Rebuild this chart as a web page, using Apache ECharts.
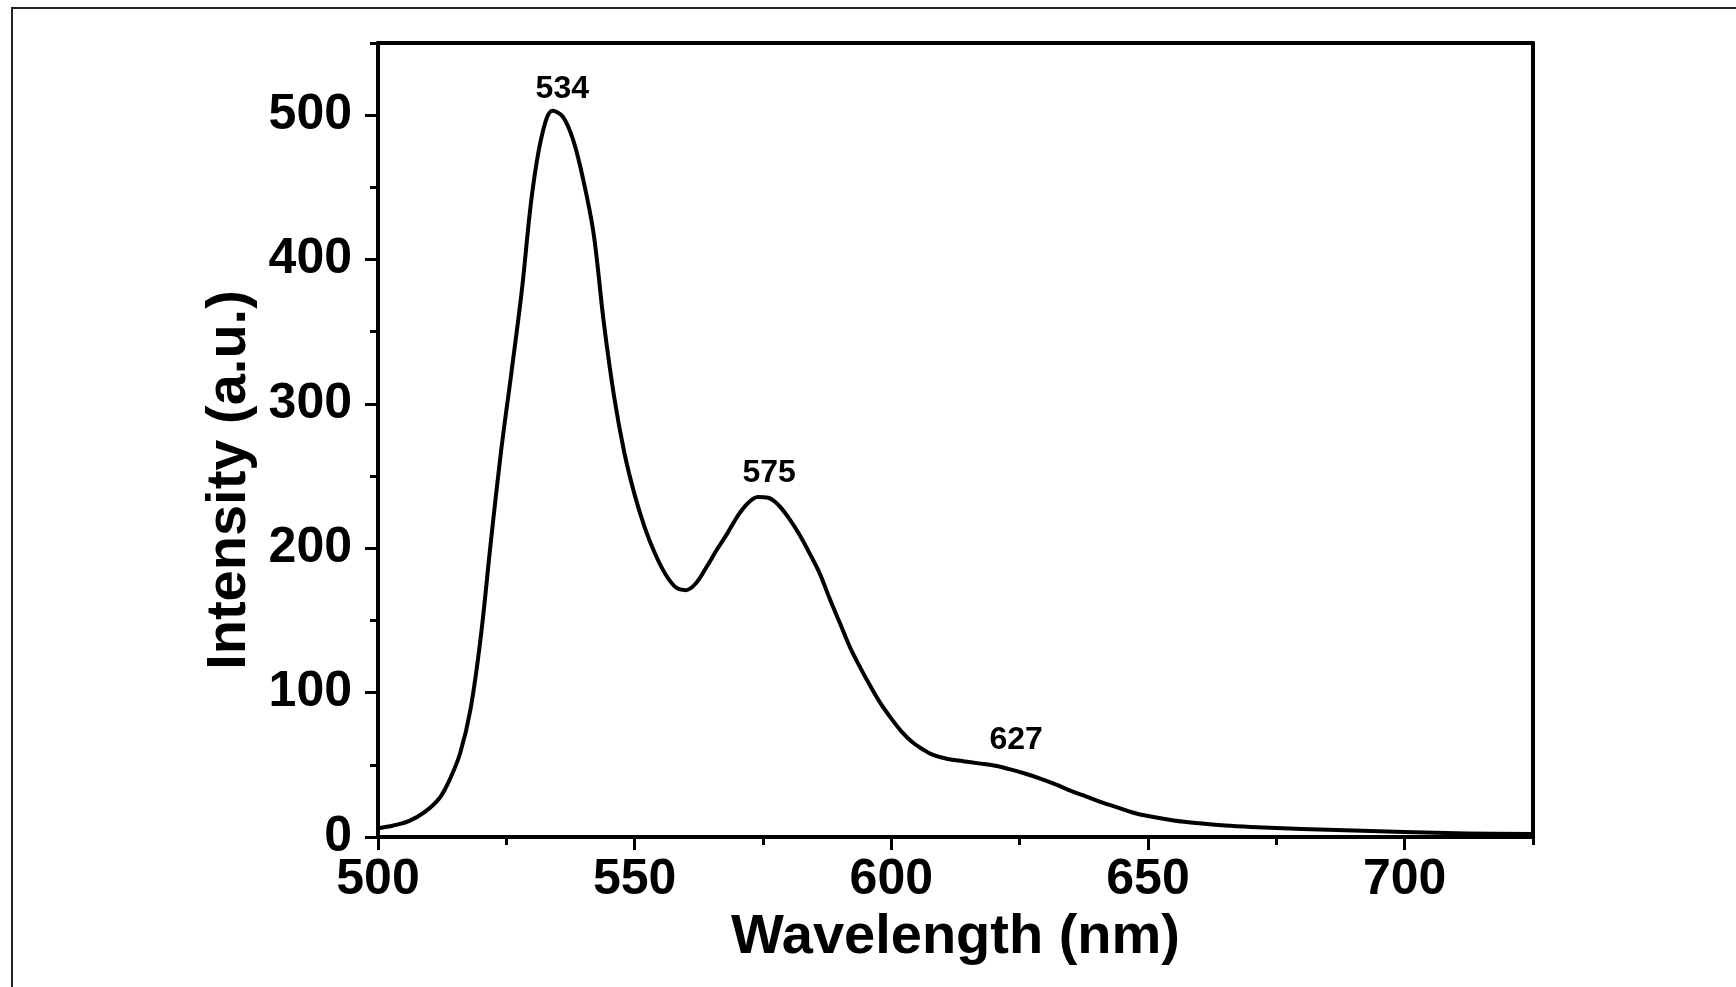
<!DOCTYPE html>
<html>
<head>
<meta charset="utf-8">
<script src="https://cdn.jsdelivr.net/npm/echarts@6/dist/echarts.min.js"></script>
<style>
html,body{margin:0;padding:0;background:#fff;}
#chart{width:1736px;height:987px;}
</style>
</head>
<body>
<div id="chart"></div>
<script>
// ---- data ----
var wavelengths = [500, 503, 506, 509, 512, 514, 516, 518, 520, 522, 524, 526, 528, 530, 532, 534, 536, 538, 540, 542, 544, 546, 548, 550, 552, 554, 556, 558, 560, 562, 564, 566, 568, 570, 572, 574, 576, 578, 580, 582, 584, 586, 588, 590, 592, 594, 596, 598, 600, 602, 604, 606, 608, 611, 614, 617, 620, 623, 626, 629, 632, 635, 638, 641, 644, 647, 650, 655, 660, 665, 670, 680, 690, 700, 712, 725];
var intensities = [6, 8, 11, 17, 27, 40, 58, 88, 138, 205, 268, 322, 378, 445, 487, 503, 499, 483, 455, 418, 356, 305, 266, 237, 214, 196, 182, 173, 171, 176, 187, 199, 210, 222, 231, 235.5, 235, 230, 221, 210, 197, 183, 165, 148, 131, 117, 104, 92, 82, 73, 66, 61, 57, 54, 52.5, 51, 49.5, 47, 44, 40.5, 36.5, 32, 28, 24, 20.5, 17, 14.5, 11.5, 9.5, 8, 7, 5.5, 4.5, 3.5, 2.5, 2];
var peakNames = ['534', '575', '627'];
var peakLabelX = [535.9, 576.2, 624.3];
var peakLabelY = [518, 252, 67];
var xTickValues = [500, 550, 600, 650, 700];
var xMinorValues = [525, 575, 625, 675, 725];
var yTickValues = [0, 100, 200, 300, 400, 500];
var yMinorValues = [50, 150, 250, 350, 450, 550];
var xTitle = 'Wavelength (nm)';
var yTitle = 'Intensity (a.u.)';

var FONT = '"Liberation Sans", Arial, sans-serif';
var chart = echarts.init(document.getElementById('chart'), null, {renderer: 'canvas'});

var lineData = wavelengths.map(function (w, i) { return [w, intensities[i]]; });
var peakData = peakNames.map(function (n, i) { return {value: [peakLabelX[i], peakLabelY[i]], name: n}; });

var axisLineStyle = {color: '#000', width: 4};

var option = {
  backgroundColor: '#fff',
  animation: false,
  graphic: [{
    type: 'rect',
    shape: {x: 12, y: 8, width: 1800, height: 1100},
    style: {fill: 'none', stroke: '#222', lineWidth: 2},
    silent: true, z: -10
  }],
  grid: {left: 378, top: 43, right: 203, bottom: 150, containLabel: false},
  xAxis: [{
    type: 'value', min: 500, max: 725, interval: 50, position: 'bottom',
    name: xTitle, nameLocation: 'middle', nameGap: 66,
    nameTextStyle: {fontFamily: FONT, fontWeight: 'bold', fontSize: 56, color: '#000', lineHeight: 56},
    axisLine: {show: true, onZero: false, lineStyle: axisLineStyle},
    axisTick: {show: true, inside: false, length: 13, lineStyle: {color: '#000', width: 3}, customValues: xTickValues},
    axisLabel: {show: true, margin: 18, fontFamily: FONT, fontWeight: 'bold', fontSize: 50, color: '#000', lineHeight: 50, customValues: xTickValues},
    splitLine: {show: false}
  }, {
    type: 'value', min: 500, max: 725, position: 'bottom',
    axisLine: {show: false},
    axisTick: {show: true, inside: false, length: 8, lineStyle: {color: '#000', width: 3}, customValues: xMinorValues},
    axisLabel: {show: false},
    splitLine: {show: false}
  }, {
    type: 'value', min: 500, max: 725, position: 'top',
    axisLine: {show: true, onZero: false, lineStyle: axisLineStyle},
    axisTick: {show: false}, axisLabel: {show: false}, splitLine: {show: false}
  }],
  yAxis: [{
    type: 'value', min: 0, max: 550, interval: 100, position: 'left',
    name: yTitle, nameLocation: 'middle', nameGap: 120, nameRotate: 90,
    nameTextStyle: {fontFamily: FONT, fontWeight: 'bold', fontSize: 56, color: '#000', lineHeight: 56, padding: [0, 80, 0, 0]},
    axisLine: {show: true, onZero: false, lineStyle: axisLineStyle},
    axisTick: {show: true, inside: false, length: 13, lineStyle: {color: '#000', width: 3}, customValues: yTickValues},
    axisLabel: {show: true, margin: 26, fontFamily: FONT, fontWeight: 'bold', fontSize: 50, color: '#000', lineHeight: 50, padding: [0, 0, 8, 0], customValues: yTickValues},
    splitLine: {show: false}
  }, {
    type: 'value', min: 0, max: 550, position: 'left',
    axisLine: {show: false},
    axisTick: {show: true, inside: false, length: 8, lineStyle: {color: '#000', width: 3}, customValues: yMinorValues},
    axisLabel: {show: false},
    splitLine: {show: false}
  }, {
    type: 'value', min: 0, max: 550, position: 'right',
    axisLine: {show: true, onZero: false, lineStyle: axisLineStyle},
    axisTick: {show: false}, axisLabel: {show: false}, splitLine: {show: false}
  }],
  series: [{
    type: 'line',
    xAxisIndex: 0, yAxisIndex: 0,
    data: lineData,
    smooth: 0.35,
    showSymbol: false,
    symbol: 'none',
    lineStyle: {color: '#000', width: 4, join: 'round', cap: 'round'},
    silent: true,
    z: 5
  }, {
    type: 'scatter',
    xAxisIndex: 0, yAxisIndex: 0,
    data: peakData,
    symbolSize: 0,
    silent: true,
    itemStyle: {opacity: 1, color: '#000'},
    label: {
      show: true, position: 'inside',
      formatter: function (p) { return p.name; },
      fontFamily: FONT, fontWeight: 'bold', fontSize: 32, color: '#000', opacity: 1
    },
    z: 6
  }]
};
chart.setOption(option);
</script>
</body>
</html>
